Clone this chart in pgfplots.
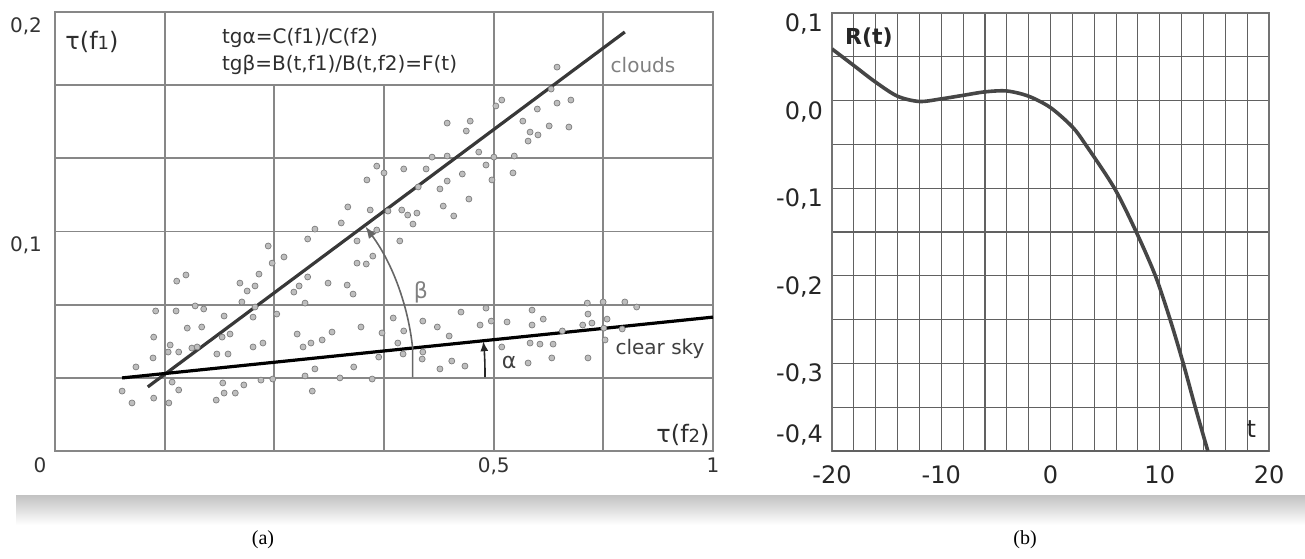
\documentclass[border=0pt]{standalone}
\usepackage{pgfplots}
\pgfplotsset{compat=1.18}
\usepackage{fontspec}
\setmainfont{Liberation Serif}
\newfontfamily\figfont{DejaVu Sans}
\usetikzlibrary{arrows.meta}

\definecolor{gridA}{RGB}{135,135,135}
\definecolor{dotfill}{RGB}{190,190,190}
\definecolor{dotline}{RGB}{125,125,125}
\definecolor{curve}{RGB}{70,70,70}

\pgfplotstableread{
x      y
0.324 0.0934
0.199 0.0802
0.185 0.0774
0.281 0.0765
0.310 0.0806
0.292 0.0729
0.304 0.0752
0.284 0.0679
0.153 0.0638
0.184 0.0638
0.213 0.0661
0.226 0.0647
0.257 0.0615
0.301 0.0610
0.304 0.0656
0.201 0.0560
0.223 0.0565
0.150 0.0519
0.254 0.0519
0.266 0.0533
0.175 0.0483
0.172 0.0451
0.188 0.0451
0.208 0.0469
0.216 0.0474
0.246 0.0442
0.263 0.0442
0.301 0.0474
0.316 0.0492
0.149 0.0424
0.123 0.0383
0.178 0.0314
0.188 0.0278
0.102 0.0273
0.117 0.0219
0.150 0.0241
0.173 0.0219
0.255 0.0310
0.257 0.0264
0.274 0.0264
0.287 0.0301
0.245 0.0232
0.313 0.0323
0.489 0.1298
0.500 0.1267
0.530 0.1285
0.564 0.1285
0.474 0.1235
0.445 0.1112
0.479 0.1098
0.506 0.1093
0.527 0.1098
0.550 0.1084
0.544 0.1034
0.435 0.1039
0.395 0.1011
0.489 0.1007
0.384 0.0966
0.459 0.0957
0.524 0.0957
0.348 0.0884
0.330 0.0856
0.459 0.0856
0.473 0.0852
0.483 0.0888
0.384 0.0793
0.371 0.0752
0.363 0.0724
0.415 0.0765
0.444 0.0756
0.453 0.0715
0.380 0.0674
0.337 0.0624
0.368 0.0533
0.421 0.0542
0.406 0.0506
0.389 0.0492
0.377 0.0474
0.465 0.0565
0.497 0.0538
0.514 0.0606
0.530 0.0547
0.559 0.0592
0.521 0.0492
0.529 0.0442
0.558 0.0419
0.559 0.0451
0.492 0.0428
0.454 0.0383
0.395 0.0374
0.331 0.0328
0.380 0.0342
0.433 0.0333
0.482 0.0328
0.391 0.0273
0.679 0.1599
0.763 0.1585
0.784 0.1599
0.733 0.1558
0.670 0.1572
0.631 0.1503
0.596 0.1494
0.625 0.1458
0.711 0.1503
0.751 0.1481
0.781 0.1476
0.722 0.1453
0.734 0.1440
0.719 0.1412
0.644 0.1362
0.573 0.1339
0.596 0.1344
0.667 0.1339
0.698 0.1344
0.655 0.1303
0.619 0.1262
0.696 0.1267
0.596 0.1230
0.585 0.1194
0.664 0.1235
0.629 0.1148
0.590 0.1116
0.606 0.1071
0.581 0.0565
0.617 0.0633
0.655 0.0651
0.663 0.0592
0.646 0.0574
0.599 0.0524
0.687 0.0588
0.725 0.0642
0.725 0.0574
0.742 0.0601
0.771 0.0547
0.809 0.0674
0.802 0.0574
0.585 0.0374
0.603 0.0410
0.623 0.0387
0.679 0.0474
0.722 0.0492
0.737 0.0487
0.757 0.0487
0.719 0.0401
0.755 0.0424
0.810 0.0424
0.833 0.0679
0.866 0.0679
0.884 0.0656
0.810 0.0624
0.816 0.0583
0.839 0.0601
0.834 0.0560
0.862 0.0556
0.836 0.0506
0.763 0.1749
0.552 0.1203
0.536 0.1075
0.754 0.1649
}\scatterdata

\begin{document}
\begin{tikzpicture}
\useasboundingbox (0pt,0pt) rectangle (652.5pt,-279pt);

% soft shadow under the two panels
\shade[top color=black!24, bottom color=white] (8pt,-247.5pt) rectangle (652.5pt,-262.5pt);

%% (a)
\begin{axis}[
  at={(27.5pt,-225.5pt)}, anchor=south west,
  scale only axis, width=329pt, height=219.5pt,
  xmin=0, xmax=1, ymin=0, ymax=0.2,
  clip=false,
  axis line style={draw=gridA, line width=0.9pt},
  major tick length=0pt,
  xtick={0.6667,1}, xticklabels={{0{,}5},1},
  extra x ticks={0}, extra x tick labels={0},
  extra x tick style={xticklabel style={xshift=-7.5pt}},
  ytick={0.1,0.2}, yticklabels={{0{,}1},{0{,}2}},
  yticklabel style={yshift=-7pt, xshift=-3pt},
  tick label style={font=\figfont\fontsize{10}{12}\selectfont, text=black!80},
  unbounded coords=jump,
]
% grid of the panel (top row is split differently)
\addplot[gridA, line width=0.9pt, forget plot] coordinates {
  (0,0.03333) (1,0.03333) (nan,nan)
  (0,0.06667) (1,0.06667) (nan,nan)
  (0,0.1) (1,0.1) (nan,nan)
  (0,0.13333) (1,0.13333) (nan,nan)
  (0,0.16667) (1,0.16667) (nan,nan)
  (0.16667,0) (0.16667,0.2) (nan,nan)
  (0.66667,0) (0.66667,0.2) (nan,nan)
  (0.83333,0) (0.83333,0.2) (nan,nan)
  (0.33333,0) (0.33333,0.16667) (nan,nan)
  (0.5,0) (0.5,0.16667)};
\addplot[only marks, mark=*, mark size=1.5pt,
  mark options={fill=dotfill, draw=dotline, line width=0.35pt}] table {\scatterdata};
% clouds
\addplot[line width=1.6pt, black!78] coordinates {(0.141,0.0292) (0.866,0.1909)};
% clear sky
\addplot[line width=1.6pt, black] coordinates {(0.102,0.0333) (1,0.061)};
% angle beta
\draw[line width=0.8pt, black!60, -{Latex[length=6pt,width=4.5pt]}]
  (axis cs:0.5435,0.0337) -- (axis cs:0.5435,0.0469) arc[start angle=6, end angle=36.5, radius=124pt];
% angle alpha
\draw[line width=0.8pt, black!85, -{Latex[length=5pt,width=4pt]}]
  (axis cs:0.6535,0.0337) -- (axis cs:0.6535,0.0351) arc[start angle=0, end angle=5.9, radius=159.5pt];
\end{axis}

%% (b)
\begin{axis}[
  at={(416pt,-225.5pt)}, anchor=south west,
  scale only axis, width=218.5pt, height=219pt,
  xmin=-20, xmax=20, ymin=-0.4, ymax=0.1,
  xtick={-20,-10,0,10,20}, xticklabels={-20,-10,0,10,20},
  minor x tick num=4,
  ytick={-0.3,-0.2,-0.1,0,0.1}, yticklabels={{-0{,}3},{-0{,}2},{-0{,}1},{0{,}0},{0{,}1}},
  minor ytick={-0.35,-0.25,-0.15,-0.05,0.05},
  extra y ticks={-0.4}, extra y tick labels={{-0{,}4}},
  extra y tick style={yticklabel style={yshift=13.5pt}},
  grid=both,
  major grid style={black!62, line width=0.55pt},
  minor grid style={black!62, line width=0.55pt},
  axis line style={black!55, line width=0.55pt},
  major tick length=0pt, minor tick length=0pt,
  yticklabel style={yshift=-5.5pt, xshift=-1pt},
  xticklabel style={yshift=-4pt},
  tick label style={font=\figfont\fontsize{12}{14}\selectfont, text=black!85},
]
\addplot[smooth, line width=1.8pt, curve] coordinates {
  (-20,0.059) (-18,0.040) (-16,0.021) (-14,0.005) (-12,-0.001) (-10,0.002)
  (-8,0.006) (-6,0.010) (-4,0.011) (-2,0.005) (0,-0.008) (2,-0.030)
  (3.2,-0.050) (5.85,-0.100) (7.85,-0.150) (9.6,-0.200) (10.95,-0.250)
  (12.15,-0.300) (13.25,-0.350) (14.4,-0.400)};
\end{axis}

%% labels of (a)
\node[font=\figfont\fontsize{12}{14}\selectfont, text=black!82] at (46pt,-21pt) {τ(f{\fontsize{9}{10}\selectfont 1})};
\node[anchor=west, font=\figfont\fontsize{10}{12}\selectfont, text=black!82] at (107.5pt,-19pt) {tgα=C(f1)/C(f2)};
\node[anchor=west, font=\figfont\fontsize{10}{12}\selectfont, text=black!82] at (107.5pt,-32.5pt) {tgβ=B(t,f1)/B(t,f2)=F(t)};
\node[font=\figfont\fontsize{10}{12}\selectfont, text=black!50] at (321.5pt,-32.5pt) {clouds};
\node[font=\figfont\fontsize{10}{12}\selectfont, text=black!75] at (330pt,-174.5pt) {clear sky};
\node[font=\figfont\fontsize{11}{13}\selectfont, text=black!50] at (210.5pt,-146pt) {β};
\node[font=\figfont\fontsize{11}{13}\selectfont, text=black!75] at (254.5pt,-181pt) {α};
\node[font=\figfont\fontsize{12}{14}\selectfont, text=black!82] at (341.5pt,-217.5pt) {τ(f{\fontsize{9}{10}\selectfont 2})};

%% labels of (b)
\node[anchor=north west, font=\figfont\bfseries\fontsize{11}{13}\selectfont, text=black!85] at (419pt,-10.5pt) {R(t)};
\node[anchor=south east, font=\figfont\fontsize{12}{14}\selectfont, text=black!85] at (631.5pt,-222.5pt) {t};

%% captions
\node[font=\fontsize{10}{12}\selectfont] at (131.5pt,-270pt) {(a)};
\node[font=\fontsize{10}{12}\selectfont] at (512.5pt,-270pt) {(b)};
\end{tikzpicture}
\end{document}
